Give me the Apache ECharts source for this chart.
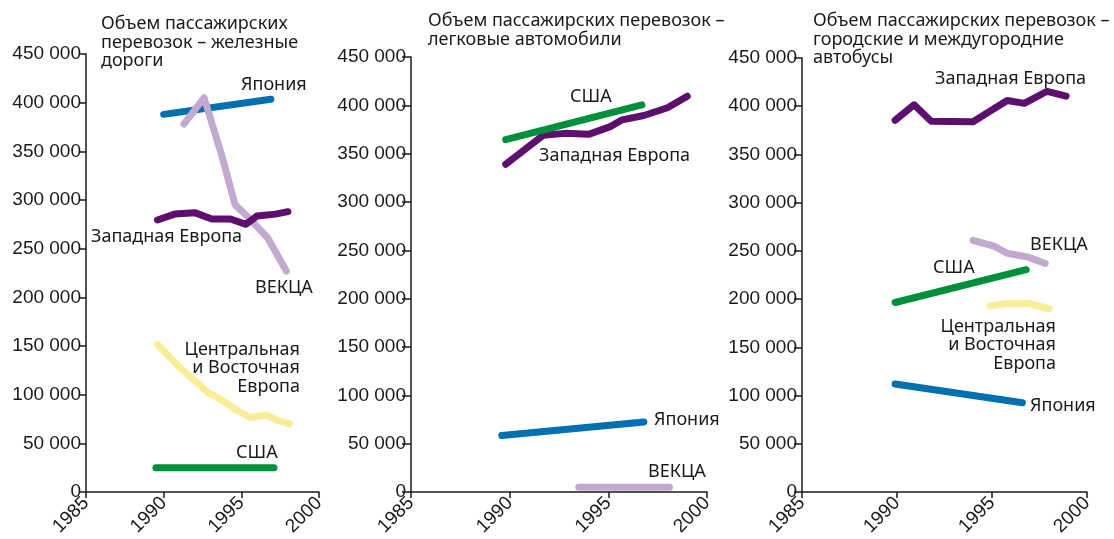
<!DOCTYPE html>
<html>
<head>
<meta charset="utf-8">
<script src="https://cdn.jsdelivr.net/npm/echarts@6/dist/echarts.min.js"></script>
<style>
html,body{margin:0;padding:0;background:#fff;}
#chart{width:1114px;height:539px;}
</style>
</head>
<body>
<div id="chart"></div>
<script>
// ---- data: [year, value] pairs ----
const panelTitles = [
  'Объем пассажирских\nперевозок – железные\nдороги',
  'Объем пассажирских перевозок –\nлегковые автомобили',
  'Объем пассажирских перевозок –\nгородские и междугородние\nавтобусы'
];
const yearTicks = [1985, 1990, 1995, 2000];
const valueTicks = [0, 50000, 100000, 150000, 200000, 250000, 300000, 350000, 400000, 450000];

// Railways
const railJapan = [[1990.0, 388000], [1996.9, 403500]];
const railVekca = [[1991.3, 378000], [1992.6, 405000], [1993.7, 348000], [1994.6, 295000], [1995.4, 283000], [1996.7, 261000], [1997.9, 227000]];
const railWestEurope = [[1989.6, 279500], [1990.7, 285500], [1992.0, 287000], [1993.1, 280500], [1994.3, 280500], [1995.3, 275000], [1996.0, 283500], [1997.2, 285500], [1998.0, 288000]];
const railCee = [[1989.6, 151500], [1991.0, 128500], [1992.9, 101500], [1993.4, 98000], [1994.7, 84000], [1995.6, 76500], [1996.6, 79000], [1997.3, 74000], [1998.1, 70000]];
const railUsa = [[1989.5, 25000], [1997.1, 25000]];

// Passenger cars
const carUsa = [[1989.8, 364500], [1996.7, 400500]];
const carWestEurope = [[1989.8, 339000], [1991.7, 369000], [1992.8, 371000], [1994.0, 370000], [1995.1, 378000], [1995.7, 385000], [1996.8, 389500], [1998.0, 397500], [1999.0, 409500]];
const carJapan = [[1989.6, 58500], [1996.8, 72500]];
const carVekca = [[1993.5, 5000], [1998.1, 5000]];

// Buses
const busWestEurope = [[1989.9, 385500], [1990.9, 401500], [1991.8, 384500], [1994.0, 384000], [1995.8, 406000], [1996.7, 403000], [1997.9, 415500], [1998.9, 410500]];
const busVekca = [[1994.0, 261000], [1995.1, 255000], [1995.8, 247500], [1996.9, 243500], [1997.8, 237000]];
const busUsa = [[1989.9, 196500], [1996.8, 230500]];
const busCee = [[1994.9, 193000], [1995.8, 195500], [1996.9, 195500], [1998.0, 190000]];
const busJapan = [[1989.9, 112000], [1996.6, 92500]];

// ---- styling ----
const C = {
  japan: '#0070b0',
  usa: '#00903a',
  we: '#5c0f6c',
  vekca: '#c1a9d0',
  cee: '#f9ee98'
};
const ink = '#1a1a1a';
const labelFont = '"Noto Sans", "Open Sans", sans-serif';
const tickFont = '"Liberation Sans", Arial, sans-serif';

const grids = [
  {left: 86, top: 54, width: 233, height: 438},
  {left: 411, top: 57, width: 296, height: 435},
  {left: 802, top: 58, width: 285, height: 434}
];
const yTickLen = [7, 9, 8];

function fmt(v) { return v === 0 ? '0' : String(v).replace(/\B(?=(\d{3})+(?!\d))/g, ' '); }

const xAxes = grids.map((g, i) => ({
  gridIndex: i, type: 'value', min: yearTicks[0], max: yearTicks[yearTicks.length - 1], interval: 5,
  axisLine: {show: true, lineStyle: {color: ink, width: 1.5}},
  axisTick: {show: true, length: 6, lineStyle: {color: ink, width: 1.5}},
  axisLabel: {rotate: 45, margin: 8, fontSize: 19, fontFamily: tickFont, color: ink, formatter: v => String(v)},
  splitLine: {show: false}
}));
const yAxes = grids.map((g, i) => ({
  gridIndex: i, type: 'value', min: valueTicks[0], max: valueTicks[valueTicks.length - 1], interval: 50000,
  axisLine: {show: true, lineStyle: {color: ink, width: 1.5}},
  axisTick: {show: true, length: yTickLen[i], lineStyle: {color: ink, width: 1.5}},
  axisLabel: {margin: 5, fontSize: 19, fontFamily: tickFont, color: ink, formatter: fmt},
  splitLine: {show: false}
}));

function line(name, data, color, idx, z) {
  return {
    name, type: 'line', data, xAxisIndex: idx, yAxisIndex: idx, z: z || 2,
    showSymbol: false, symbol: 'none', silent: true, animation: false,
    lineStyle: {color, width: 7, cap: 'round', join: 'round'}
  };
}

const series = [
  line('Япония', railJapan, C.japan, 0, 2),
  line('ВЕКЦА', railVekca, C.vekca, 0, 3),
  line('Западная Европа', railWestEurope, C.we, 0, 4),
  line('Центральная и Восточная Европа', railCee, C.cee, 0, 2),
  line('США', railUsa, C.usa, 0, 2),
  line('Западная Европа', carWestEurope, C.we, 1, 2),
  line('США', carUsa, C.usa, 1, 3),
  line('Япония', carJapan, C.japan, 1, 2),
  line('ВЕКЦА', carVekca, C.vekca, 1, 2),
  line('Западная Европа', busWestEurope, C.we, 2, 2),
  line('ВЕКЦА', busVekca, C.vekca, 2, 2),
  line('США', busUsa, C.usa, 2, 2),
  line('Центральная и Восточная Европа', busCee, C.cee, 2, 2),
  line('Япония', busJapan, C.japan, 2, 2)
];

function txt(text, x, y, align) {
  return {
    type: 'text', x, y, z: 10, silent: true,
    style: {text, fill: ink, font: '18px ' + labelFont, align: align || 'left', verticalAlign: 'middle', lineHeight: 18.5}
  };
}

const labels = [
  txt('Япония', 241, 85),
  txt('Западная Европа', 91, 237),
  txt('ВЕКЦА', 255, 288),
  txt('Центральная\nи Восточная\nЕвропа', 300, 368, 'right'),
  txt('США', 236, 453),
  txt('США', 570, 97),
  txt('Западная Европа', 539, 156),
  txt('Япония', 654, 420),
  txt('ВЕКЦА', 648, 472),
  txt('Западная Европа', 935, 79),
  txt('ВЕКЦА', 1030, 245),
  txt('США', 933, 268),
  txt('Центральная\nи Восточная\nЕвропа', 1056, 345, 'right'),
  txt('Япония', 1030, 406)
];

const titleLefts = [101, 428, 813];
const titleTops = [15, 12, 12];
const titles = panelTitles.map((t, i) => ({
  text: t, left: titleLefts[i], top: titleTops[i], padding: 0,
  textStyle: {fontSize: 18, fontWeight: 'normal', fontFamily: labelFont, color: ink, lineHeight: 18.5}
}));

const chart = echarts.init(document.getElementById('chart'), null, {renderer: 'canvas'});
chart.setOption({
  animation: false,
  backgroundColor: '#fff',
  title: titles,
  grid: grids,
  xAxis: xAxes,
  yAxis: yAxes,
  series,
  graphic: labels
});
</script>
</body>
</html>
